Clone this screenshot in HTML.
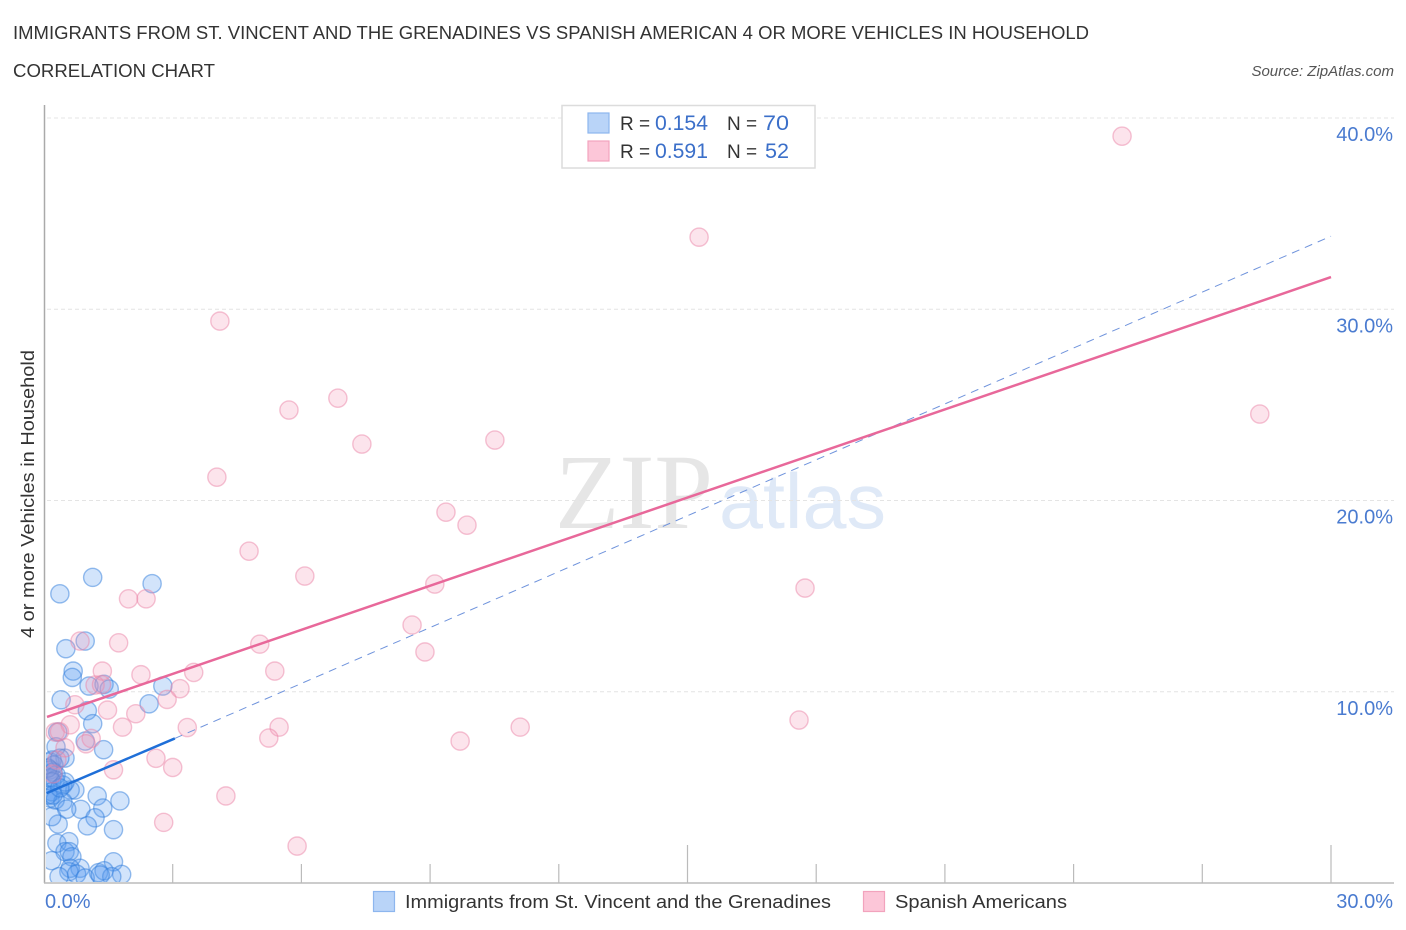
<!DOCTYPE html>
<html lang="en">
<head>
<meta charset="utf-8">
<title>Correlation Chart</title>
<style>
html,body{margin:0;padding:0;background:#fff;width:1406px;height:930px;overflow:hidden}
svg{display:block;font-family:"Liberation Sans",sans-serif}
</style>
</head>
<body>
<svg id="chart" xmlns="http://www.w3.org/2000/svg" width="1406" height="930" viewBox="0 0 1406 930">
  <defs>
    <clipPath id="plot-clip"><rect x="46" y="100" width="1350" height="782"/></clipPath>
  </defs>
  <rect width="1406" height="930" fill="#fff"/>

  <text x="13" y="39" font-size="18" fill="#333" textLength="1076" lengthAdjust="spacingAndGlyphs">IMMIGRANTS FROM ST. VINCENT AND THE GRENADINES VS SPANISH AMERICAN 4 OR MORE VEHICLES IN HOUSEHOLD</text>
  <text x="13" y="77" font-size="18" fill="#333" textLength="202" lengthAdjust="spacingAndGlyphs">CORRELATION CHART</text>
  <text x="1394" y="76" font-size="15" font-style="italic" fill="#555" text-anchor="end">Source: ZipAtlas.com</text>

  <g id="watermark">
    <text x="555" y="528" font-family="'Liberation Serif',serif" font-size="107" fill="#e6e6e6" textLength="158" lengthAdjust="spacingAndGlyphs">ZIP</text>
    <text x="719" y="528" font-family="'Liberation Sans',sans-serif" font-size="78" fill="#dfe9f7" textLength="167" lengthAdjust="spacingAndGlyphs">atlas</text>
  </g>

  <g id="grid"></g>
  <g id="axes"></g>
  <g id="points-blue" clip-path="url(#plot-clip)"></g>
  <g id="points-pink" clip-path="url(#plot-clip)"></g>
  <g id="trends"></g>
  <g id="tick-labels"></g>

  <text transform="translate(34,494) rotate(-90)" font-size="18.5" fill="#333" text-anchor="middle" textLength="288" lengthAdjust="spacingAndGlyphs">4 or more Vehicles in Household</text>

  <g id="top-legend">
    <rect x="562" y="105.500" width="253" height="62.500" fill="#fff" stroke="#dcdcdc" stroke-width="1.500"/>
    <rect x="588" y="113" width="21" height="20" fill="#b9d4f8" stroke="#8db6ee" stroke-width="1.200"/>
    <rect x="588" y="141" width="21" height="20" fill="#fcc6d8" stroke="#f2a3bd" stroke-width="1.200"/>
    <text x="620" y="130" font-size="19" fill="#333">R =</text>
    <text x="655" y="130" font-size="21" fill="#3b6fc9" textLength="53" lengthAdjust="spacingAndGlyphs">0.154</text>
    <text x="727" y="130" font-size="19" fill="#333">N =</text>
    <text x="763" y="130" font-size="21" fill="#3b6fc9" textLength="26" lengthAdjust="spacingAndGlyphs">70</text>
    <text x="620" y="158" font-size="19" fill="#333">R =</text>
    <text x="655" y="158" font-size="21" fill="#3b6fc9" textLength="53" lengthAdjust="spacingAndGlyphs">0.591</text>
    <text x="727" y="158" font-size="19" fill="#333">N =</text>
    <text x="765" y="158" font-size="21" fill="#3b6fc9" textLength="24" lengthAdjust="spacingAndGlyphs">52</text>
  </g>

  <g id="bottom-legend">
    <rect x="373.500" y="891.500" width="21" height="20" fill="#b9d4f8" stroke="#8db6ee" stroke-width="1.200"/>
    <text x="405" y="908" font-size="18.500" fill="#333" textLength="426" lengthAdjust="spacingAndGlyphs">Immigrants from St. Vincent and the Grenadines</text>
    <rect x="863.500" y="891.500" width="21" height="20" fill="#fcc6d8" stroke="#f2a3bd" stroke-width="1.200"/>
    <text x="895" y="908" font-size="18.500" fill="#333" textLength="172" lengthAdjust="spacingAndGlyphs">Spanish Americans</text>
  </g>
</svg>
<script>
const yTickValues = [10, 20, 30, 40];
const yTickLabels = ["10.0%", "20.0%", "30.0%", "40.0%"];
const xTickValues = [3, 6, 9, 12, 15, 18, 21, 24, 27, 30];
const xMajorTicks = [15, 30];
const xEndLabels = ["0.0%", "30.0%"];

const blueX = [1.135,2.52,0.37,0.96,0.51,0.68,0.66,1.05,1.40,1.52,2.77,0.40,1.01,2.45,1.135,0.32,0.96,1.39,0.28,0.49,
  0.14,0.19,0.23,0.14,0.21,0.28,0.14,0.26,0.37,0.09,
  0.72,0.61,0.44,0.18,0.18,0.14,0.26,0.44,0.09,0.21,
  1.24,1.77,1.37,0.86,1.19,1.01,1.62,0.53,0.33,0.18,
  0.30,0.58,0.49,0.59,0.65,0.18,1.62,
  0.84,0.61,0.58,0.76,1.27,1.40,1.81,0.35,1.58,0.96,1.31,0.49,0.37];
const blueY = [15.98,15.65,15.12,12.65,12.25,11.08,10.75,10.30,10.39,10.14,10.30,9.58,9.01,9.37,8.33,7.89,7.42,6.97,7.12,6.53,
  6.33,6.43,6.17,5.91,5.80,5.65,5.49,5.38,6.53,6.01,
  4.86,4.86,5.12,5.30,4.77,4.44,4.34,4.25,4.60,4.60,
  4.55,4.29,3.92,3.85,3.41,2.99,2.79,3.86,3.08,3.47,
  2.08,2.16,1.64,1.64,1.37,1.17,1.11,
  0.77,0.77,0.59,0.47,0.54,0.64,0.45,0.33,0.33,0.26,0.42,5.28,4.97];

const pinkX = [25.13,15.27,4.10,6.85,5.71,7.41,10.51,28.34,4.03,9.37,
  9.86,4.78,6.08,9.11,17.74,1.97,2.38,8.58,1.74,5.03,
  0.84,8.88,5.38,1.36,2.26,3.49,3.17,1.19,1.34,2.87,
  0.72,1.48,2.14,0.61,1.83,3.34,5.48,11.10,17.60,5.24,
  9.70,0.26,0.36,1.10,0.98,0.49,2.61,3.00,1.62,4.24,
  2.79,5.90,0.30,0.21];
const pinkY = [39.05,33.77,29.38,25.35,24.73,22.95,23.16,24.52,21.22,19.39,
  18.71,17.35,16.05,15.63,15.42,14.86,14.86,13.49,12.56,12.49,
  12.65,12.08,11.08,11.08,10.89,11.01,10.16,10.35,10.37,9.60,
  9.32,9.04,8.85,8.27,8.15,8.13,8.15,8.15,8.52,7.58,
  7.42,7.89,7.91,7.56,7.28,7.07,6.52,6.04,5.92,4.55,
  3.17,1.93,6.43,5.70];

const pinkTrendX = [0.07, 30];
const pinkTrendY = [8.68, 31.68];
const blueSolidX = [0.06, 3.05];
const blueSolidY = [4.70, 7.56];
const blueDashX = [3.05, 30];
const blueDashY = [7.56, 33.82];

const SVG_NS = "http://www.w3.org/2000/svg";
function xScale(v) { return 44 + v * 42.9; }
function yScale(v) { return 883 - v * 19.125; }
function make(tag, attrs, parent) {
  const el = document.createElementNS(SVG_NS, tag);
  for (const k in attrs) el.setAttribute(k, attrs[k]);
  parent.appendChild(el);
  return el;
}

const grid = document.getElementById("grid");
const axes = document.getElementById("axes");
const tickLabels = document.getElementById("tick-labels");
const trends = document.getElementById("trends");

yTickValues.forEach(function (v, i) {
  const line = make("line", {x1: 47, x2: 1394, y1: yScale(v), y2: yScale(v), stroke: "#e4e4e4", "stroke-width": 1, "stroke-dasharray": "4 3"}, grid);
  
  
  const label = make("text", {x: 1393, y: yScale(v) + 23, "font-size": 20, fill: "#4a7bd0", "text-anchor": "end"}, tickLabels);
  label.textContent = yTickLabels[i];
  
  
});

const yAxis = make("line", {x1: 44.5, x2: 44.5, y1: 105, y2: 883, stroke: "#aaa", "stroke-width": 1.5}, axes);


const xAxis = make("line", {x1: 44, x2: 1394, y1: 883, y2: 883, stroke: "#bbb", "stroke-width": 1.5}, axes);



xTickValues.forEach(function (v) {
  const top = xMajorTicks.indexOf(v) >= 0 ? 845 : 864;
  const tick = make("line", {x1: xScale(v), x2: xScale(v), y1: top, y2: 883, stroke: "#bbb", "stroke-width": 1.2}, axes);
  
  
});

const xLabelLeft = make("text", {x: 45, y: 908, "font-size": 20, fill: "#4a7bd0"}, tickLabels);
xLabelLeft.textContent = xEndLabels[0];


const xLabelRight = make("text", {x: 1393, y: 908, "font-size": 20, fill: "#4a7bd0", "text-anchor": "end"}, tickLabels);
xLabelRight.textContent = xEndLabels[1];



const blueGroup = document.getElementById("points-blue");
blueX.forEach(function (v, i) {
  const c = make("circle", {cx: xScale(v), cy: yScale(blueY[i]), r: 9.1, fill: "rgba(90,155,240,0.27)", stroke: "rgba(50,125,220,0.5)", "stroke-width": 1.4}, blueGroup);
  
  
});

const pinkGroup = document.getElementById("points-pink");
pinkX.forEach(function (v, i) {
  const c = make("circle", {cx: xScale(v), cy: yScale(pinkY[i]), r: 9.1, fill: "rgba(245,150,180,0.26)", stroke: "rgba(235,130,165,0.48)", "stroke-width": 1.4}, pinkGroup);
  
  
});

const dashTrend = make("line", {x1: xScale(blueDashX[0]), y1: yScale(blueDashY[0]), x2: xScale(blueDashX[1]), y2: yScale(blueDashY[1]), stroke: "#6f93dc", "stroke-width": 1, "stroke-dasharray": "8 6"}, trends);


const pinkTrend = make("line", {x1: xScale(pinkTrendX[0]), y1: yScale(pinkTrendY[0]), x2: xScale(pinkTrendX[1]), y2: yScale(pinkTrendY[1]), stroke: "#e8689a", "stroke-width": 2.5}, trends);


const blueTrend = make("line", {x1: xScale(blueSolidX[0]), y1: yScale(blueSolidY[0]), x2: xScale(blueSolidX[1]), y2: yScale(blueSolidY[1]), stroke: "#1f6fd8", "stroke-width": 2.5}, trends);


</script>
</body>
</html>
